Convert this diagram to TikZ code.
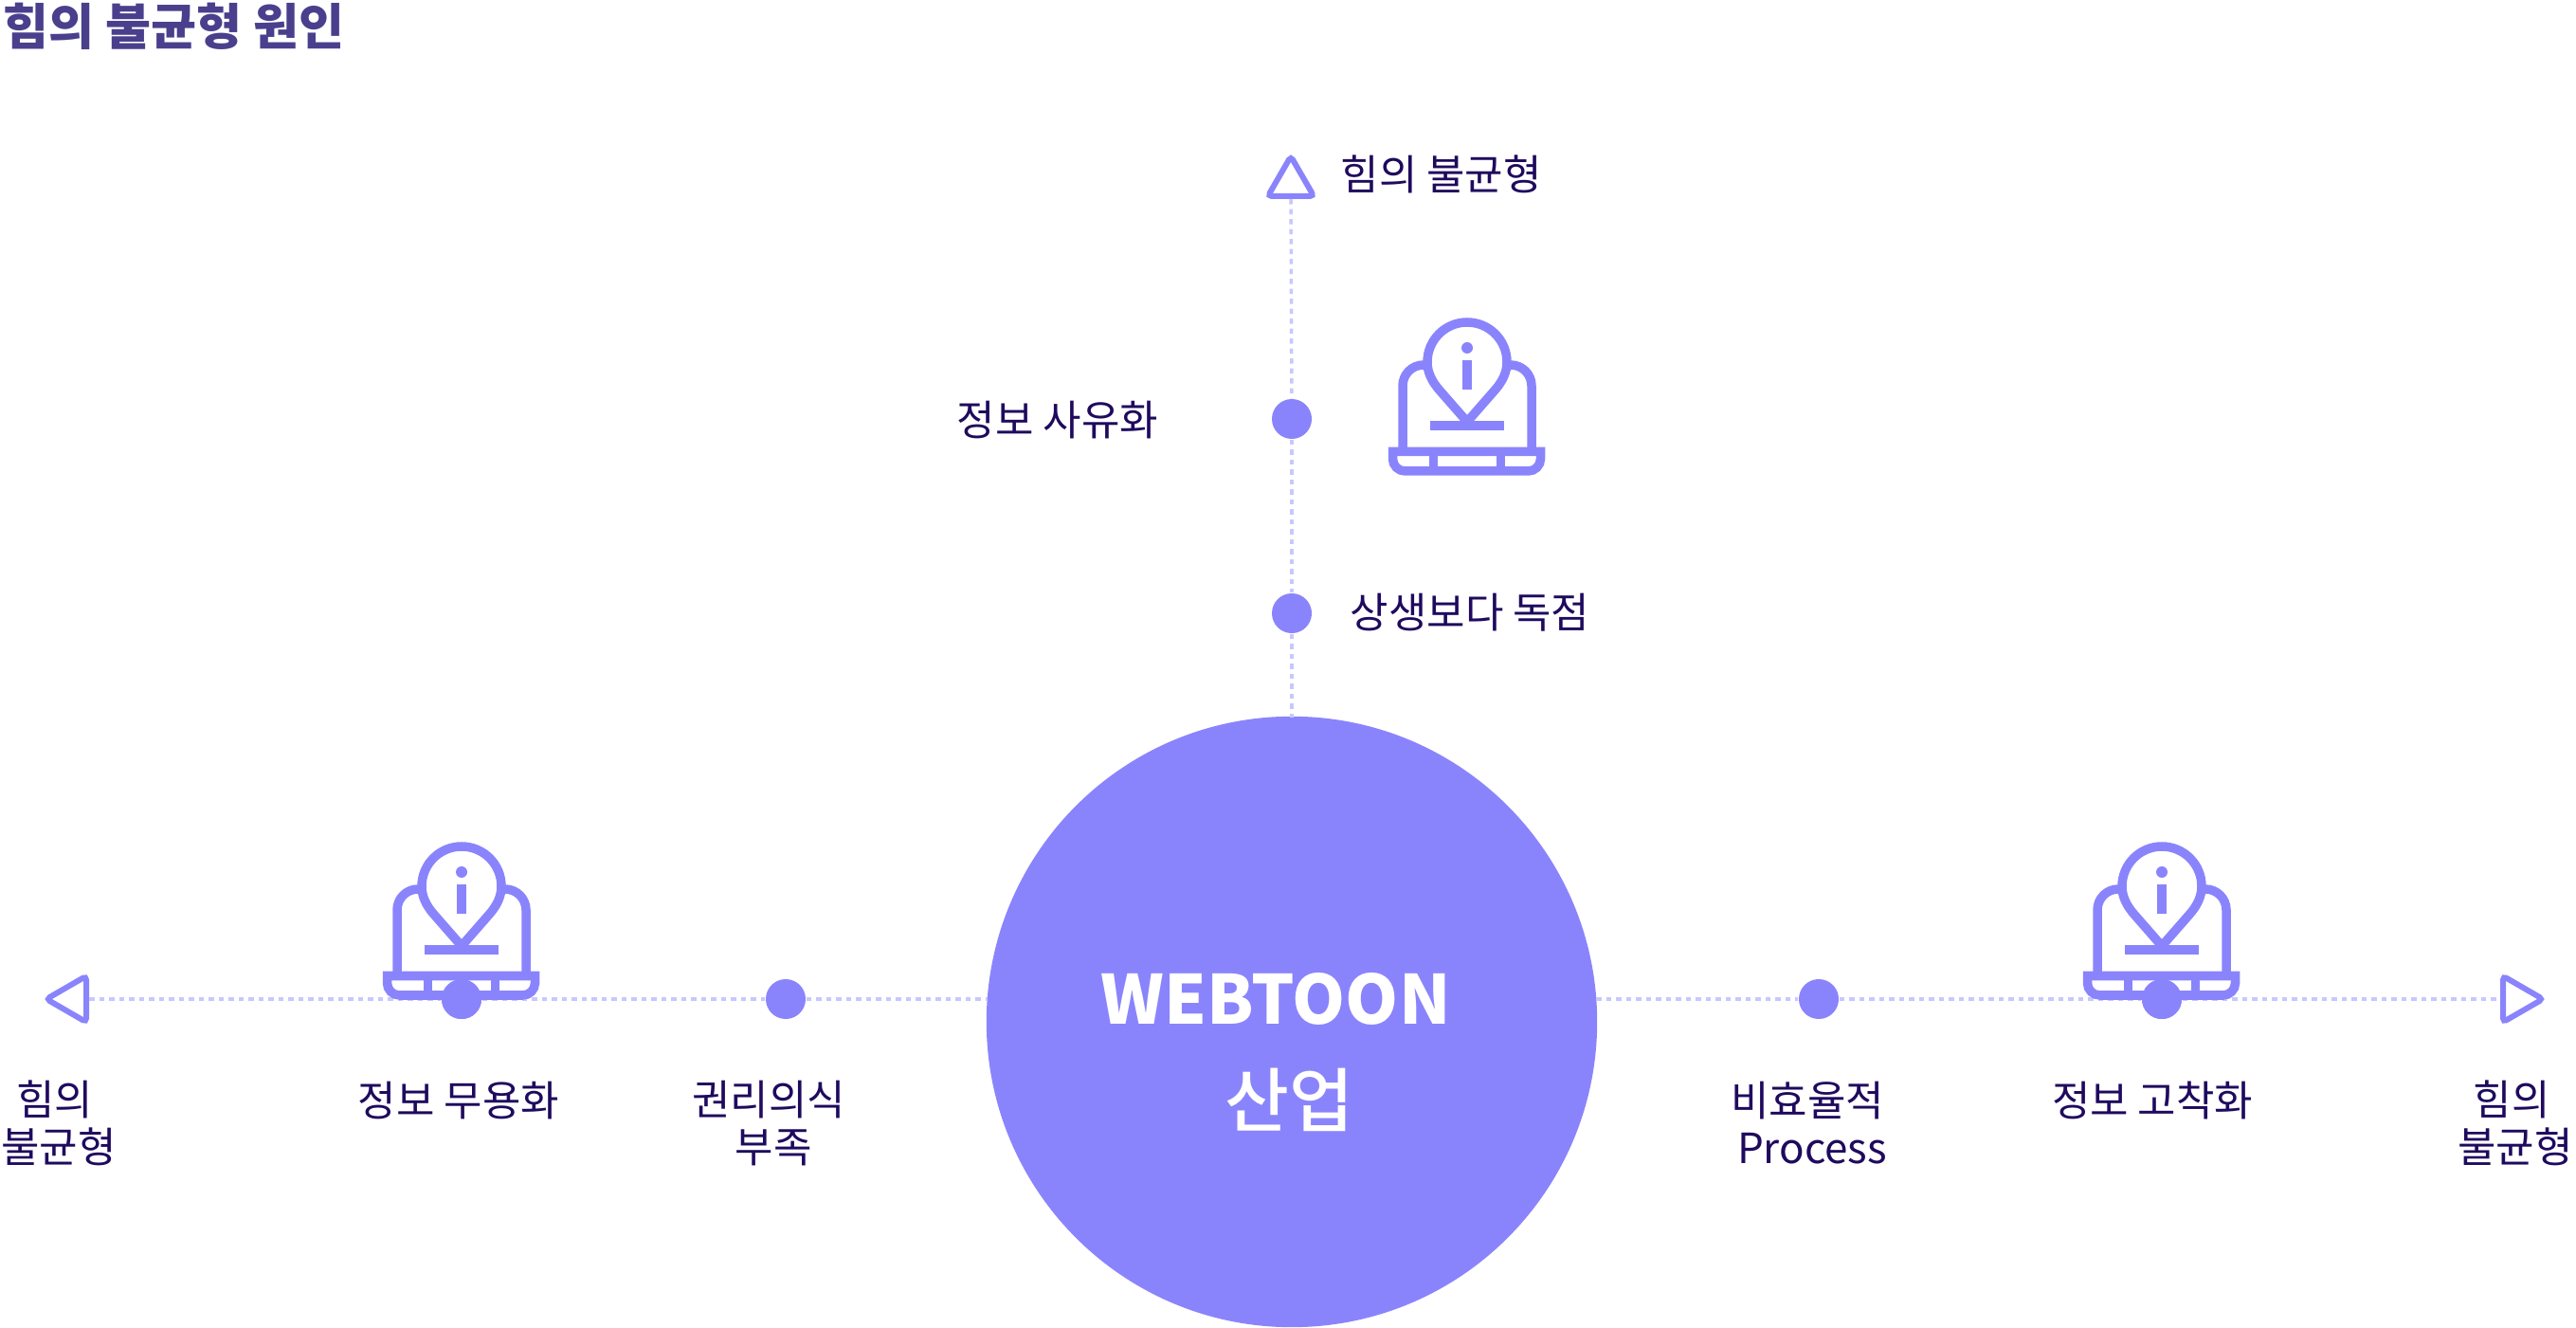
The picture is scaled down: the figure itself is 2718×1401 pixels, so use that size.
\documentclass[tikz,border=0pt]{standalone}
\usepackage{fontspec}
\usepackage{xcolor}
\setmainfont{Noto Sans CJK KR}
\newfontfamily\hubfont{Noto Sans CJK KR Medium}
\usetikzlibrary{positioning,arrows.meta,calc,shapes.geometric}

\definecolor{hubcol}{HTML}{8A84FC}
\definecolor{dashcol}{HTML}{C8C8FF}
\definecolor{labelcol}{HTML}{1F0A5E}
\definecolor{titlecol}{HTML}{4A3F8C}

\tikzset{
  dotnode/.style={circle, fill=hubcol, minimum size=0.42cm, inner sep=0pt},
  endtri/.style={regular polygon, regular polygon sides=3, draw=hubcol, fill=white,
        line width=0.06cm, rounded corners=0.04cm, minimum size=0.56cm, inner sep=0pt},
  lbl/.style={text=labelcol, inner sep=0pt, align=center,
        font=\fontsize{12.5}{14.2}\selectfont},
  hubtext/.style={text=white, inner sep=0pt, font=\fontsize{20.3}{24}\selectfont\bfseries},
  dashline/.style={dashcol, line width=0.035cm, dash pattern=on 0.055cm off 0.05cm},
  iconline/.style={hubcol, line width=0.095cm},
}

\newcommand{\infoicon}[1]{%
  \begin{scope}[shift={(#1)}]
    % screen
    \draw[iconline, rounded corners=0.22cm] (-42,3) -- (-68,3) -- (-68,92);
    \draw[iconline, rounded corners=0.22cm] (42,3) -- (68,3) -- (68,92);
    % base
    \draw[iconline, fill=white] (-78.5,94.5) [sharp corners] -- (77.5,94.5)
        [rounded corners=0.13cm] -- (77.5,115) -- (-78.5,115) [sharp corners] -- cycle;
    \draw[iconline] (-35.5,94.5) -- (-35.5,115);
    \draw[iconline] (35.5,94.5) -- (35.5,115);
    % pin
    \draw[iconline] (0,63) -- (-28,31) .. controls (-38,20) and (-42,10) .. (-42,0)
        arc (180:360:42) .. controls (42,10) and (38,20) .. (28,31) -- cycle;
    \draw[iconline] (-39,67) -- (39,67);
    \fill[hubcol] (0,-15) circle (6);
    \fill[hubcol] (-5,-2) rectangle (5,29);
  \end{scope}
}

\begin{document}
\begin{tikzpicture}[x=0.01cm, y=-0.01cm]
  \useasboundingbox (0,0) rectangle (2718,1401);

  \node[circle, fill=hubcol, minimum size=6.44cm, inner sep=0pt] (hub) at (1363,1078) {};
  \node[hubtext] (hubtop) at (1346,1054) {WEBTOON};
  \node[text=white, inner sep=0pt, font=\fontsize{21}{24}\hubfont] (hubbot) at (1360,1160) {산업};

  \node[endtri] (tritop) at (1362,193) {};
  \node[endtri, shape border rotate=90] (trileft) at (77,1054) {};
  \node[endtri, shape border rotate=-90] (triright) at (2655,1054) {};

  \node[dotnode] (dotpriv) at (1363,442) {};
  \node[dotnode] (dotmono) at (1363,647) {};
  \node[dotnode] (dotright) at (829,1054) {};
  \node[dotnode] (dotuse) at (487,1054) {};
  \node[dotnode] (dotproc) at (1919,1054) {};
  \node[dotnode] (dotfix) at (2281,1054) {};

  \coordinate (hubw) at (1042,1054);
  \coordinate (hube) at (1684,1054);
  \coordinate (hubn) at (1363,757);

  \draw[dashline] (tritop) -- (dotpriv);
  \draw[dashline] (dotpriv) -- (dotmono);
  \draw[dashline] (dotmono) -- (hubn);
  \draw[dashline] (trileft) -- (dotuse);
  \draw[dashline] (dotuse) -- (dotright);
  \draw[dashline] (dotright) -- (hubw);
  \draw[dashline] (hube) -- (dotproc);
  \draw[dashline] (dotproc) -- (dotfix);
  \draw[dashline] (dotfix) -- (triright);

  \infoicon{1548,382}
  \infoicon{487,935}
  \infoicon{2281,935}

  % dots sit over the icons
  \node[dotnode] (dotusetop) at (dotuse) {};
  \node[dotnode] (dotfixtop) at (dotfix) {};

  \node[text=titlecol, inner sep=0pt, anchor=west, font=\fontsize{14.85}{17}\selectfont\bfseries] (title) at (3,28) {힘의 불균형 원인};

  \node[lbl, anchor=west] (ltop) at (1414,184) {힘의 불균형};
  \node[lbl] (lpriv) at (1116,443) {정보 사유화};
  \node[lbl] (lmono) at (1551,646) {상생보다 독점};
  \node[lbl] (lleft) at (62,1185) {힘의\hspace*{0.08cm}\\불균형};
  \node[lbl] (luse) at (484,1161) {정보 무용화};
  \node[lbl] (lright) at (811,1185) {권리의식\\\hspace*{0.1cm}부족};
  \node[lbl] (lproc) at (1907,1185) {비효율적\\\hspace*{0.1cm}Process};
  \node[lbl] (lfix) at (2271,1161) {정보 고착화};
  \node[lbl] (lend) at (2654,1185) {힘의\hspace*{0.08cm}\\불균형};
\end{tikzpicture}
\end{document}
